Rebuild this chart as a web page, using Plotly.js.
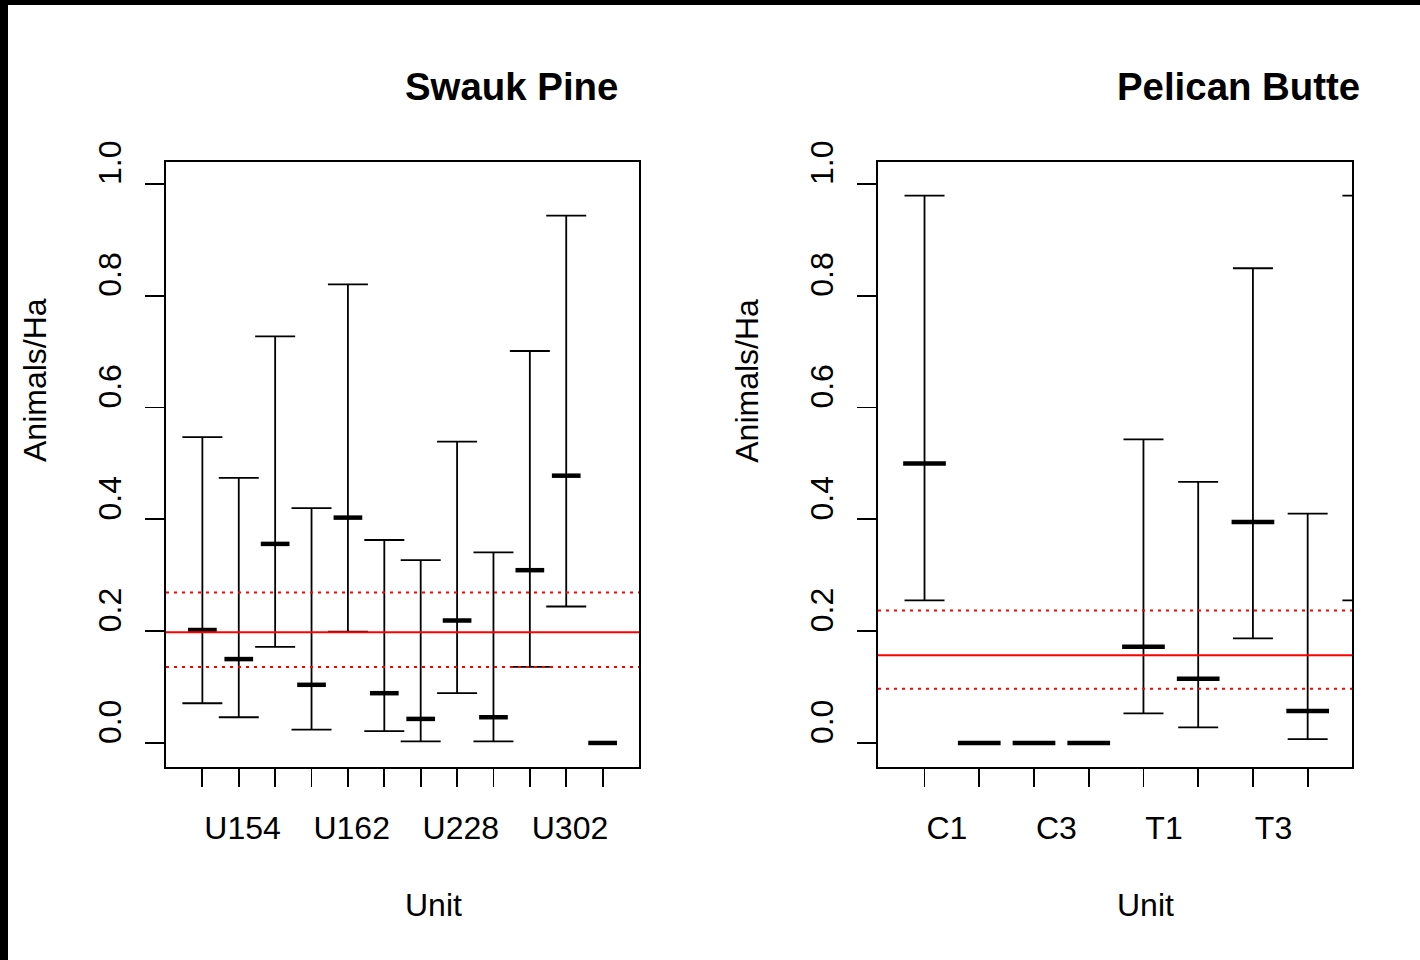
<!DOCTYPE html>
<html><head><meta charset="utf-8">
<script src="https://cdn.plot.ly/plotly-3.0.1.min.js"></script>
<style>html,body{margin:0;padding:0;background:#fff;}#chart{width:1420px;height:960px;}</style>
</head><body><div id="chart"></div>
<script>
// ---- Swauk Pine ----
const swaukPos = [1,2,3,4,5,6,7,8,9,10,11,12];
const swaukTickLabels = ["U154","","","U162","","","U228","","","U302","",""];
const swaukMean  = [0.202,0.150,0.356,0.104,0.403,0.089,0.043,0.219,0.046,0.309,0.478,0.000];
const swaukLower = [0.071,0.046,0.172,0.024,0.199,0.021,0.003,0.089,0.003,0.136,0.244,null];
const swaukUpper = [0.547,0.474,0.727,0.420,0.820,0.363,0.327,0.539,0.341,0.701,0.943,null];
const swaukRefLines = [0.198,0.136,0.269];

// ---- Pelican Butte ----
const pelicanPos = [1,2,3,4,5,6,7,8];
const pelicanTickLabels = ["C1","","C3","","T1","","T3",""];
const pelicanMean  = [0.500,0.000,0.000,0.000,0.172,0.115,0.395,0.057];
const pelicanCiPos = [1,2,3,4,5,6,7,8,9];
const pelicanLower = [0.255,null,null,null,0.053,0.028,0.187,0.007,0.255];
const pelicanUpper = [0.979,null,null,null,0.543,0.467,0.849,0.410,0.979];
const pelicanRefLines = [0.157,0.097,0.237];

const refDash = ["solid","3px,5px","3px,5px"];
const yTicks = [0,0.2,0.4,0.6,0.8,1.0];
const yTickText = ["0.0","0.2","0.4","0.6","0.8","1.0"];
const FONT = "Liberation Sans, Arial, Helvetica, sans-serif";

function whiskers(x, lo, hi, xa, ya){
  return {type:'scatter', mode:'markers', x:x, y:lo, xaxis:xa, yaxis:ya,
    marker:{size:1, opacity:0}, hoverinfo:'skip', showlegend:false, cliponaxis:true,
    error_y:{type:'data', symmetric:false,
      array: hi.map((h,i)=> (h==null||lo[i]==null)? NaN : h-lo[i]),
      arrayminus: lo.map(()=>0), width:20, thickness:1.8, color:'#000'}};
}
function means(x, m, xa, ya, w){
  return {type:'scatter', mode:'markers', x:x, y:m, xaxis:xa, yaxis:ya,
    marker:{symbol:'line-ew', size:w, color:'#000', line:{width:4.5, color:'#000'}},
    hoverinfo:'skip', showlegend:false, cliponaxis:true};
}
const data = [
  whiskers(swaukPos, swaukLower, swaukUpper, 'x', 'y'),
  means(swaukPos, swaukMean, 'x', 'y', 20.5),
  whiskers(pelicanCiPos, pelicanLower, pelicanUpper, 'x2', 'y2'),
  means(pelicanPos, pelicanMean, 'x2', 'y2', 30.5)
];

const shapes = [];
function refShapes(vals, xr, yr){
  vals.forEach((v,i)=>shapes.push({type:'line', xref:xr, yref:yr, x0:0, x1:1, y0:v, y1:v,
    layer:'above', line:{color:'#ff0000', width:2, dash:refDash[i]}}));
}
refShapes(swaukRefLines, 'x domain', 'y');
refShapes(pelicanRefLines, 'x2 domain', 'y2');
// black frame at top/left edges of the picture
shapes.push({type:'rect', xref:'paper', yref:'paper', x0:0, x1:8/1420, y0:0, y1:1, fillcolor:'#000', line:{width:0}, layer:'above'});
shapes.push({type:'rect', xref:'paper', yref:'paper', x0:0, x1:1, y0:1-5/960, y1:1, fillcolor:'#000', line:{width:0}, layer:'above'});

const yDomain = [1-767/960, 1-162/960];
function xAxis(domain, range, vals, text, anchor){
  return {domain:domain, range:range, anchor:anchor, tickmode:'array', tickvals:vals, ticktext:text,
    ticks:'outside', ticklen:18, tickwidth:1.8, tickcolor:'#000', ticklabelposition:'outside right',
    ticklabelstandoff:32,
    showline:true, mirror:true, linewidth:2, linecolor:'#000', showgrid:false, zeroline:false,
    tickfont:{family:FONT, size:32, color:'#000'}, fixedrange:true, automargin:false};
}
function yAxis(anchor){
  return {domain:yDomain, range:[-0.043,1.039], anchor:anchor, tickmode:'array', tickvals:yTicks, ticktext:yTickText,
    tickangle:-90, ticklabelposition:'outside top', ticklabelstandoff:30, ticklabelshift:7,
    ticks:'outside', ticklen:19, tickwidth:1.8, tickcolor:'#000',
    showline:true, mirror:true, linewidth:2, linecolor:'#000', showgrid:false, zeroline:false,
    tickfont:{family:FONT, size:32, color:'#000'}, fixedrange:true, automargin:false};
}
const annotations = [];
function panelText(title, xr){
  annotations.push({text:title, xref:xr, yref:'paper', x:0.5, y:1-86/960, xanchor:'left', yanchor:'middle',
    showarrow:false, font:{family:FONT, size:38.4, color:'#000', weight:'bold'}});
  annotations.push({text:'Unit', xref:xr, yref:'paper', x:0.5, y:1-905/960, xanchor:'left', yanchor:'middle',
    showarrow:false, font:{family:FONT, size:32, color:'#000'}});
  annotations.push({text:'Animals/Ha', xref:xr, yref:'paper', x:-0.278, y:0.5*(yDomain[0]+yDomain[1]),
    xanchor:'center', yanchor:'bottom', textangle:-90, showarrow:false,
    font:{family:FONT, size:32, color:'#000'}});
}
panelText('Swauk Pine', 'x domain');
panelText('Pelican Butte', 'x2 domain');

const layout = {
  width:1420, height:960, autosize:false,
  margin:{l:0, r:0, t:0, b:0, pad:0},
  paper_bgcolor:'#fff', plot_bgcolor:'#fff', showlegend:false,
  xaxis: xAxis([166/1420, 639/1420], [0, 13], swaukPos, swaukTickLabels, 'y'),
  yaxis: yAxis('x'),
  xaxis2: xAxis([878/1420, 1352/1420], [0.15, 8.81], pelicanPos, pelicanTickLabels, 'y2'),
  yaxis2: yAxis('x2'),
  shapes: shapes, annotations: annotations,
  font:{family:FONT, color:'#000'}
};
Plotly.newPlot('chart', data, layout, {staticPlot:true, displayModeBar:false});
</script></body></html>
